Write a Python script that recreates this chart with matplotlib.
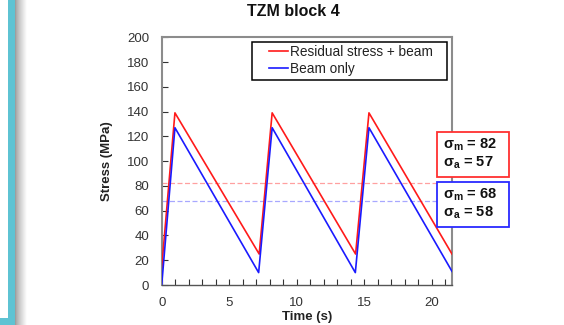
import matplotlib
matplotlib.use("Agg")
import matplotlib.pyplot as plt
from matplotlib.patches import Rectangle
import numpy as np

# ---- data ----
time_red = [0, 0.98, 7.22, 8.18, 14.36, 15.35, 21.5]
stress_red = [14, 139, 25, 139, 25, 139, 25]
time_blue = [0, 0.98, 7.18, 8.18, 14.34, 15.35, 21.5]
stress_blue = [0, 127, 10, 127, 10, 127, 11]
mean_red = 82
mean_blue = 68
amp_red = 57
amp_blue = 58
labels = ["Residual stress + beam", "Beam only"]
title = "TZM block 4"
xticks = [0, 5, 10, 15, 20]
yticks = [0, 20, 40, 60, 80, 100, 120, 140, 160, 180, 200]

plt.rcParams['font.family'] = ['Liberation Sans', 'DejaVu Sans']
plt.rcParams['mathtext.fontset'] = 'custom'
plt.rcParams['mathtext.rm'] = 'Liberation Sans'
plt.rcParams['mathtext.bf'] = 'Liberation Sans:bold'

W, H = 564, 325
fig = plt.figure(figsize=(W / 100, H / 100), dpi=100)

def fx(px):
    return px / W

def fy(py):
    return 1 - py / H

# ---- decoration at left ----
teal = '#5ec3d3'
fig.patches.append(Rectangle((fx(8), 0), fx(7), 1, transform=fig.transFigure,
                             facecolor=teal, edgecolor='none', zorder=1))
fig.patches.append(Rectangle((0, 0), fx(15), fy(318), transform=fig.transFigure,
                             facecolor=teal, edgecolor='none', zorder=1))
n = 24
for i in range(n):
    g = 0.62 + 0.38 * (i / (n - 1)) ** 0.8
    fig.patches.append(Rectangle((fx(15 + 12 * i / n), 0), fx(12 / n + 0.05), 1,
                                 transform=fig.transFigure,
                                 facecolor=(g, g, g), edgecolor='none', zorder=1))

# ---- axes ----
ax = fig.add_axes([fx(161.7), fy(285), fx(452) - fx(161.7), fy(37.3) - fy(285)])
ax.plot(time_red, stress_red, color='#ff1a1a', lw=1.2, label=labels[0], zorder=3)
ax.plot(time_blue, stress_blue, color='#1a1aff', lw=1.2, label=labels[1], zorder=3)
ax.axhline(mean_red, color='#ffa0a0', lw=0.9, ls=(0, (4, 2)), zorder=2)
ax.axhline(mean_blue, color='#a8a8ff', lw=0.9, ls=(0, (4, 2)), zorder=2)

ax.set_xlim(0, 21.5)
ax.set_ylim(0, 200)
ax.set_xticks(xticks)
ax.set_xticks(np.arange(0, 22, 1), minor=True)
ax.set_yticks(yticks)
ax.tick_params(axis='both', direction='in', labelsize=9.5, labelcolor='#333333',
               color='#333333', length=4, width=0.8)
ax.tick_params(axis='x', which='minor', direction='in', length=4, width=0.8, color='#333333')
ax.tick_params(axis='x', pad=9)
ax.tick_params(axis='y', pad=9)
for s in ['left', 'top', 'right']:
    ax.spines[s].set_color('#8c8c8c')
    ax.spines[s].set_linewidth(1.5)
ax.spines['bottom'].set_color('#555555')
ax.spines['bottom'].set_linewidth(1.0)

ax.set_xlabel('Time (s)', fontsize=9.5, fontweight='bold', color='#222222', labelpad=1)
ax.set_ylabel('Stress (MPa)', fontsize=9.5, fontweight='bold', color='#222222', labelpad=10)

fig.text(fx(293), fy(12), title, fontsize=11.5, fontweight='bold', ha='center', va='center',
         color='#111111')

# ---- legend ----
ax.add_patch(Rectangle((fx(251.7), fy(80.3)), fx(446.7) - fx(251.7), fy(42.3) - fy(80.3),
                       transform=fig.transFigure, facecolor='white', clip_on=False,
                       edgecolor='black', lw=1.1, zorder=5))
leg = ax.legend(loc='upper left', bbox_to_anchor=(fx(266), fy(42.5)),
                bbox_transform=fig.transFigure, frameon=False, fontsize=9.8,
                handlelength=1.45, handletextpad=0.15, labelspacing=0.22,
                borderpad=0.2, borderaxespad=0)
for t in leg.get_texts():
    t.set_color('#222222')
leg.set_zorder(6)

# ---- stats boxes ----
def stat_box(y0, y1, color, m, a):
    fig.patches.append(Rectangle((fx(437), fy(y1)), fx(509) - fx(437), fy(y0) - fy(y1),
                                 transform=fig.transFigure, facecolor='white',
                                 edgecolor=color, lw=1.3, zorder=5))
    fig.text(fx(443), fy(y0 + 13), r"σ$_\mathbf{m}$ = %d" % m, fontsize=10.5,
             fontweight='bold', va='center', ha='left', color='#111111', zorder=6)
    fig.text(fx(443), fy(y0 + 31), r"σ$_\mathbf{a}$ = %d" % a, fontsize=10.5,
             fontweight='bold', va='center', ha='left', color='#111111', zorder=6)

stat_box(131.7, 176.7, '#ff3030', mean_red, amp_red)
stat_box(181.7, 227.3, '#2a2aff', mean_blue, amp_blue)

fig.savefig('out.png', dpi=100)
